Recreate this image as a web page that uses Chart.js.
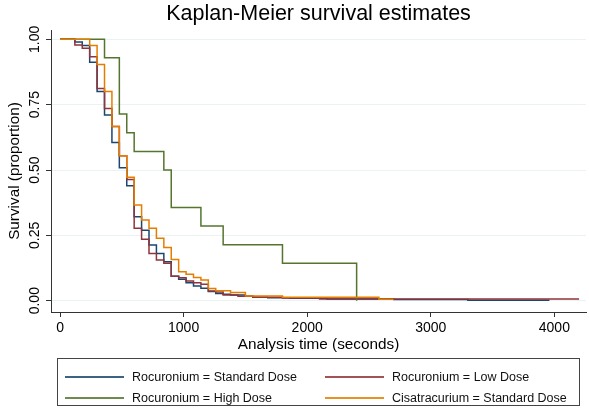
<!DOCTYPE html>
<html><head><meta charset="utf-8">
<script src="https://cdn.jsdelivr.net/npm/chart.js@4"></script>
<style>
html,body{margin:0;padding:0;background:#fff;}
#wrap{position:relative;width:589px;height:417px;overflow:hidden;}
#c{position:absolute;left:0;top:0;}
#legend{position:absolute;left:57px;top:358px;width:523px;height:48px;border:1px solid #444;box-sizing:border-box;font-family:"Liberation Sans",Arial,sans-serif;font-size:12.5px;color:#111;}
.item{position:absolute;display:flex;align-items:center;height:16px;line-height:16px;white-space:nowrap;}
.sw{display:inline-block;width:59px;height:2px;margin-right:8px;opacity:0.85;}
</style></head>
<body>
<div id="wrap">
<canvas id="c" width="589" height="417"></canvas>
<div id="legend"></div>
</div>
<script>
// ---- data (time in seconds, survival proportion) ----
const seriesNames = ["Rocuronium = Standard Dose","Rocuronium = Low Dose","Rocuronium = High Dose","Cisatracurium = Standard Dose"];
const seriesColors = ["#1a476f","#90353b","#55752f","#e37e00"];

const stdTime = [0,120,180,240,300,360,420,480,540,600,660,720,780,840,900,960,1020,1080,1140,1200,1260,1320,1380,1500,1560,1680,1860,2160,2700,3300,3960];
const stdSurv = [1,0.990,0.976,0.912,0.800,0.710,0.605,0.509,0.440,0.321,0.270,0.213,0.181,0.149,0.094,0.082,0.069,0.056,0.048,0.035,0.028,0.025,0.022,0.017,0.013,0.011,0.009,0.007,0.005,0.002,0.002];

const lowTime = [0,120,180,240,300,360,420,480,540,600,660,720,780,840,900,960,1020,1080,1140,1200,1260,1320,1440,1560,1800,2100,4200];
const lowSurv = [1,0.978,0.966,0.933,0.812,0.735,0.666,0.555,0.464,0.277,0.235,0.181,0.156,0.143,0.094,0.088,0.075,0.069,0.063,0.037,0.033,0.022,0.017,0.013,0.010,0.007,0.007];

const highTime = [0,360,480,540,600,840,900,1140,1320,1800,2400];
const highSurv = [1,0.929,0.714,0.643,0.571,0.500,0.357,0.286,0.214,0.143,0];

const cisTime = [0,240,300,360,420,480,540,600,660,720,780,840,900,960,1020,1080,1140,1200,1260,1380,1500,1800,2580,2700];
const cisSurv = [1,0.976,0.904,0.800,0.666,0.555,0.472,0.366,0.309,0.277,0.239,0.204,0.158,0.111,0.101,0.089,0.079,0.047,0.038,0.031,0.018,0.013,0.006,0.006];

const xTicks = [0,1000,2000,3000,4000];
const yTicks = [0,0.25,0.5,0.75,1];

// ---- build ----
const times = [stdTime, lowTime, highTime, cisTime];
const survs = [stdSurv, lowSurv, highSurv, cisSurv];
const drawOrder = [4,3,2,1];
const FONT = "'Liberation Sans', Arial, Helvetica, sans-serif";

const datasets = seriesNames.map((name, i) => ({
  label: name,
  data: times[i].map((t, j) => ({x: t, y: survs[i][j]})),
  borderColor: seriesColors[i],
  borderWidth: 1.5,
  pointRadius: 0,
  stepped: 'before',
  fill: false,
  order: drawOrder[i]
}));

new Chart(document.getElementById('c'), {
  type: 'line',
  data: {datasets},
  options: {
    responsive: false,
    animation: false,
    devicePixelRatio: 1,
    layout: {padding: {left: 0, right: 3, top: 0, bottom: 57}},
    plugins: {
      legend: {display: false},
      tooltip: {enabled: false},
      title: {
        display: true,
        text: 'Kaplan-Meier survival estimates',
        fullSize: false,
        color: '#000',
        font: {family: FONT, size: 21.5, weight: 'normal', lineHeight: 1.2},
        padding: {top: 1, bottom: 3.2}
      }
    },
    scales: {
      x: {
        type: 'linear',
        min: -73, max: 4256,
        afterBuildTicks: s => { s.ticks = xTicks.map(v => ({value: v})); },
        afterFit: s => { s.height = 48; },
        border: {display: true, color: '#333', width: 1},
        grid: {drawOnChartArea: false, drawTicks: true, tickLength: 5, tickColor: '#333', tickWidth: 1},
        ticks: {color: '#000', font: {family: FONT, size: 14}, padding: 3, maxRotation: 0, autoSkip: false,
                callback: v => String(v)},
        title: {display: true, text: 'Analysis time (seconds)', color: '#000',
                font: {family: FONT, size: 15.3}, padding: {top: 0, bottom: 6.5}}
      },
      y: {
        type: 'linear',
        min: -0.0432, max: 1.0356,
        afterBuildTicks: s => { s.ticks = yTicks.map(v => ({value: v})); },
        afterFit: s => { s.width = 51; },
        border: {display: true, color: '#333', width: 1},
        grid: {color: '#eaf2f3', lineWidth: 1, drawTicks: true, tickLength: 5, tickColor: '#333', tickWidth: 1},
        ticks: {color: '#000', font: {family: FONT, size: 14}, padding: -3, minRotation: 90, maxRotation: 90,
                crossAlign: 'center', autoSkip: false, callback: v => Number(v).toFixed(2)},
        title: {display: true, text: 'Survival (proportion)', color: '#000',
                font: {family: FONT, size: 15.3}, padding: {top: 6, bottom: 0}}
      }
    }
  }
});

// ---- legend (HTML, real text) ----
const lg = document.getElementById('legend');
const pos = [[7,10],[267,10],[7,31],[267,31]];
seriesNames.forEach((n, i) => {
  const d = document.createElement('div');
  d.className = 'item';
  d.style.left = pos[i][0] + 'px';
  d.style.top = pos[i][1] + 'px';
  const sw = document.createElement('span');
  sw.className = 'sw';
  sw.style.background = seriesColors[i];
  d.appendChild(sw);
  d.appendChild(document.createTextNode(n));
  lg.appendChild(d);
});
</script>
</body></html>
